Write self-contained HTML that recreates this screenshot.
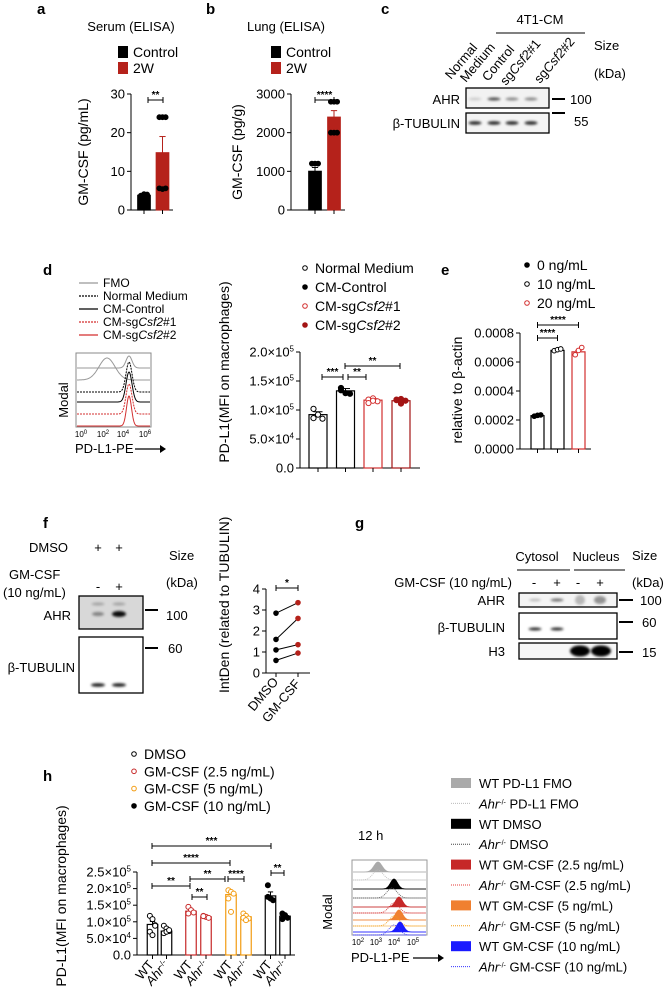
<!DOCTYPE html>
<html><head><meta charset="utf-8">
<style>
html,body{margin:0;padding:0;background:#fff;}
svg{display:block;font-family:"Liberation Sans",Arial,sans-serif;}
</style></head>
<body>
<svg id="fig" width="668" height="1000" viewBox="0 0 668 1000">
<defs>
<filter id="blur1" x="-50%" y="-200%" width="200%" height="500%"><feGaussianBlur stdDeviation="1.2"/></filter>
</defs>
</svg>
<script>
// ---------- data ----------
const aCats=['Control','2W'];
const aMeans=[3.8,14.8];
const aErr=[0.3,4.2];
const aPts=[[3.6,3.8,4.0,3.7,4.1],[24,24,24,5.6,5.4,5.6]];
const aTicks=[0,10,20,30];
const bMeans=[1000,2400];
const bErr=[100,170];
const bPts=[[1200,1200,1200,850,800],[2800,2800,2800,2000,2000,2000]];
const bTicks=[0,1000,2000,3000];
const dCats=['Normal Medium','CM-Control','CM-sgCsf2#1','CM-sgCsf2#2'];
const dMeans=[92000,133000,117000,116000];
const dErr=[5000,4000,2500,2000];
const dPts=[[102000,92000,85000,86000],[138000,129000,128000,134000],[118000,120000,115000,112000,116000],[118000,111000,116000,117000,119000]];
const dTicks=[0,50000,100000,150000,200000];
const dTickLabels=['0.0','5.0×10<tspan dy="-5" font-size="8">4</tspan>','1.0×10<tspan dy="-5" font-size="8">5</tspan>','1.5×10<tspan dy="-5" font-size="8">5</tspan>','2.0×10<tspan dy="-5" font-size="8">5</tspan>'];
const eCats=['0 ng/mL','10 ng/mL','20 ng/mL'];
const eMeans=[0.00023,0.00068,0.00067];
const eErr=[0.000005,0.000005,0.00001];
const ePts=[[0.000226,0.000232,0.000235],[0.000678,0.000685,0.00069],[0.00065,0.00068,0.0007]];
const eTicks=[0,0.0002,0.0004,0.0006,0.0008];
const eTickLabels=['0.0000','0.0002','0.0004','0.0006','0.0008'];
const fDmso=[2.85,1.6,1.1,0.6];
const fGm=[3.35,2.6,1.35,0.95];
const fTicks=[0,1,2,3,4];
const hGroups=['DMSO','GM-CSF (2.5 ng/mL)','GM-CSF (5 ng/mL)','GM-CSF (10 ng/mL)'];
const hMeans=[92000,72000,132000,115000,182000,115000,178000,117000];
const hErr=[9000,5000,6000,3000,10000,5000,12000,4000];
const hPts=[[118000,108000,90000,70000,60000,88000],[88000,80000,72000,66000,70000,75000],[145000,135000,128000,125000],[118000,115000,112000,117000],[195000,190000,185000,170000,130000],[125000,118000,110000,112000,105000],[210000,170000,165000,175000],[125000,118000,112000,108000,120000]];
const hTicks=[0,50000,100000,150000,200000,250000];
const hTickLabels=['0.0','5.0×10<tspan dy="-5" font-size="8">4</tspan>','1.0×10<tspan dy="-5" font-size="8">5</tspan>','1.5×10<tspan dy="-5" font-size="8">5</tspan>','2.0×10<tspan dy="-5" font-size="8">5</tspan>','2.5×10<tspan dy="-5" font-size="8">5</tspan>'];

// ---------- helpers ----------
const NS='http://www.w3.org/2000/svg';
const svg=document.getElementById('fig');
function el(tag,attrs,name,parent){
  const e=document.createElementNS(NS,tag);
  for(const k in attrs) e.setAttribute(k,attrs[k]);
  
  
  (parent||svg).appendChild(e);
  return e;
}
function T(x,y,s,name,o){
  o=o||{};
  const at={x:x,y:y,'font-size':o.fs||13,'text-anchor':o.a||'start',fill:o.c||'#000'};
  if(o.rot!==undefined) at.transform='rotate('+o.rot+' '+x+' '+y+')';
  if(o.fw) at['font-weight']=o.fw;
  const e=el('text',at,name);
  e.innerHTML=s;
  return e;
}
function L(x1,y1,x2,y2,name,o){
  o=o||{};
  const at={x1:x1,y1:y1,x2:x2,y2:y2,stroke:o.c||'#000','stroke-width':o.w||1};
  if(o.dash) at['stroke-dasharray']=o.dash;
  return el('line',at,name);
}
function R(x,y,w,h,name,o){
  o=o||{};
  return el('rect',{x:x,y:y,width:w,height:h,fill:o.f||'none',stroke:o.s||'none','stroke-width':o.w||1},name);
}
function C(x,y,r,name,o){
  o=o||{};
  return el('circle',{cx:x,cy:y,r:r,fill:o.f||'none',stroke:o.s||'#000','stroke-width':o.w||1},name);
}
function axisY(x,yOf,ticks,labels,name){
  L(x,yOf(ticks[ticks.length-1]),x,yOf(ticks[0]),name+'-y-axis');
  ticks.forEach((t,i)=>{
    L(x-4,yOf(t),x,yOf(t),name+'-y-tick');
    T(x-6,yOf(t)+4.5,labels[i],name+'-y-tick-label',{a:'end'});
  });
}
function bracket(x1,x2,y,star,name){
  L(x1,y,x2,y,name+'-sig-bar');
  L(x1,y-3,x1,y+3,name+'-sig-bar-end');
  L(x2,y-3,x2,y+3,name+'-sig-bar-end');
  T((x1+x2)/2,y-2,star,name+'-sig-label',{a:'middle',fs:10,fw:'bold'});
}
function barSet(xs,w,yOf,base,means,errs,pts,fills,strokes,ptFill,ptStroke,name,pr){
  means.forEach((m,i)=>{
    const x=xs[i];
    R(x-w/2,yOf(m),w,base-yOf(m),name+'-bar',{f:fills[i],s:strokes[i],w:1.2});
    L(x,yOf(m),x,yOf(m+errs[i]),name+'-error-bar',{c:strokes[i]});
    L(x-w/4,yOf(m+errs[i]),x+w/4,yOf(m+errs[i]),name+'-error-cap',{c:strokes[i]});
    pts[i].forEach((p,j)=>{
      const off=((j%3)-1)*(w/4);
      C(x+off,yOf(p),pr||2.6,name+'-point',{f:ptFill[i],s:ptStroke[i]});
    });
    L(x,base,x,base+4,name+'-x-tick');
  });
}
function gaussPath(x0,x1,base,peak,mu,sig,h){
  let d='M'+x0+' '+base;
  for(let x=x0;x<=x1;x+=0.5){
    const y=base-h*Math.exp(-Math.pow(x-mu,2)/(2*sig*sig)) - (peak||0);
    d+=' L'+x.toFixed(1)+' '+y.toFixed(1);
  }
  return d;
}
function band(x,y,w,h,op,name){
  el('ellipse',{cx:x,cy:y,rx:w/2,ry:h/2,fill:'#000','fill-opacity':op,filter:'url(#blur1)'},name);
}

// ---------- panel a ----------
T(37,14,'a','panel-label-a',{fs:15,fw:'bold'});
T(131,31,'Serum (ELISA)','panel-a-title',{a:'middle'});
R(118,46,10,12,'legend-swatch-control',{f:'#000'});
T(133,57,'Control','legend-label-control',{fs:14});
R(118,62,10,12,'legend-swatch-2w',{f:'#b5221b'});
T(133,73,'2W','legend-label-2w',{fs:14});
const aY=v=>210-v/30*116;
axisY(131,aY,aTicks,aTicks.map(String),'panel-a');
L(131,210,173,210,'panel-a-x-axis');
barSet([144,162.5],12.5,aY,210,aMeans,aErr,aPts,['#000','#b5221b'],['#000','#b5221b'],['#000','#000'],['#000','#000'],'panel-a',2.4);
bracket(148,163,100,'**','panel-a');
T(88,152,'GM-CSF (pg/mL)','panel-a-y-title',{a:'middle',rot:-90,fs:14});

// ---------- panel b ----------
T(206,14,'b','panel-label-b',{fs:15,fw:'bold'});
T(286,31,'Lung (ELISA)','panel-b-title',{a:'middle'});
R(271,46,10,12,'legend-swatch-control-b',{f:'#000'});
T(286,57,'Control','legend-label-control-b',{fs:14});
R(271,62,10,12,'legend-swatch-2w-b',{f:'#b5221b'});
T(286,73,'2W','legend-label-2w-b',{fs:14});
const bY=v=>210-v/3000*116;
axisY(291,bY,bTicks,bTicks.map(String),'panel-b');
L(291,210,333+12,210,'panel-b-x-axis');
barSet([315,334],12.5,bY,210,bMeans,bErr,bPts,['#000','#b5221b'],['#000','#b5221b'],['#000','#000'],['#000','#000'],'panel-b',2.4);
bracket(315,334,100,'****','panel-b');
T(242,152,'GM-CSF (pg/g)','panel-b-y-title',{a:'middle',rot:-90,fs:14});

// ---------- panel c ----------
T(381,14,'c','panel-label-c',{fs:15,fw:'bold'});
T(540,24,'4T1-CM','c-header-4t1cm',{a:'middle'});
L(496,33,585,33,'c-header-line');
T(451,80,'Normal','c-lane-normal',{rot:-50});
T(466,83,'Medium','c-lane-medium',{rot:-50});
T(488,82,'Control','c-lane-control',{rot:-50});
T(506,86,'sg<tspan font-style="italic">Csf2</tspan>#1','c-lane-sg1',{rot:-50});
T(540,84,'sg<tspan font-style="italic">Csf2</tspan>#2','c-lane-sg2',{rot:-50});
T(594,50,'Size','c-size-label');
T(594,78,'(kDa)','c-kda-label');
R(466,88,83,20,'c-ahr-blot',{f:'#f2f2f2',s:'#000',w:1.3});
R(466,113,83,20,'c-tubulin-blot',{f:'#f4f4f4',s:'#000',w:1.3});
[[475,0.15],[494,0.7],[512,0.45],[531,0.45]].forEach(b=>band(b[0],99,13,3,b[1],'c-ahr-band'));
[475,494,512,531].forEach(x=>band(x,123,13,3.5,0.85,'c-tubulin-band'));
T(460,104,'AHR','c-ahr-label',{a:'end'});
T(460,128,'β-TUBULIN','c-tubulin-label',{a:'end'});
L(552,99,565,99,'c-marker-100',{w:2});
T(570,104,'100','c-marker-100-label');
L(552,113,565,113,'c-marker-55',{w:2});
T(574,126,'55','c-marker-55-label');

// ---------- panel d ----------
T(43,275,'d','panel-label-d',{fs:15,fw:'bold'});
const dLeg=[['FMO','#999',''],['Normal Medium','#000','2,1'],['CM-Control','#000',''],['CM-sg<tspan font-style="italic">Csf2</tspan>#1','#d32f2f','2,1'],['CM-sg<tspan font-style="italic">Csf2</tspan>#2','#d32f2f','']];
dLeg.forEach((g,i)=>{
  const y=283+i*13;
  L(79,y,98,y,'d-hist-legend-line',{c:g[1],dash:g[2]||undefined,w:1.2});
  T(103,y+4,g[0],'d-hist-legend-label',{fs:12});
});
R(76,353,75,74,'d-histogram-frame',{s:'#888'});
const dHist=[[380,107,8,22,'#999',''],[392,129,3,30,'#000','2,1'],[402,129,3,30,'#000',''],[414,129,3,30,'#d32f2f','2,1'],[426,129,2.5,30,'#d32f2f','']];
dHist.forEach(h=>{
  const base=h[0];
  el('path',{d:gaussPath(77,150,base,0,h[1],h[2],Math.min(h[3],base-355)),fill:'none',stroke:h[4],'stroke-width':1,'stroke-dasharray':h[5]||'none'},'d-histogram-trace');
});
el('path',{d:gaussPath(77,150,368,0,129,3,12),fill:'none',stroke:'#999','stroke-width':1},'d-histogram-trace-fmo-peak');
[['10<tspan dy="-3" font-size="6">0</tspan>',81],['10<tspan dy="-3" font-size="6">2</tspan>',103],['10<tspan dy="-3" font-size="6">4</tspan>',123],['10<tspan dy="-3" font-size="6">6</tspan>',145]].forEach(t=>T(t[1],437,t[0],'d-hist-x-tick-label',{fs:8,a:'middle'}));
T(75,453,'PD-L1-PE','d-hist-x-title',{fs:13});
L(135,449,162,449,'d-hist-arrow-line',{w:1.3});
el('path',{d:'M160 445 L166 449 L160 453 Z',fill:'#000'},'d-hist-arrow-head');
T(68,400,'Modal','d-hist-y-title',{a:'middle',rot:-90});
// d legend
const dLegSty=[['#fff','#000'],['#000','#000'],['#fff','#d32f2f'],['#a31515','#a31515']];
dCats.forEach((c,i)=>{
  const y=268+i*19;
  C(305,y,2.3,'d-legend-marker',{f:dLegSty[i][0],s:dLegSty[i][1]});
  T(315,y+5,c.replace('Csf2','<tspan font-style="italic">Csf2</tspan>'),'d-legend-label',{fs:14});
});
const dY=v=>468-v/200000*116;
axisY(300,dY,dTicks,dTickLabels,'panel-d');
L(300,468,420,468,'panel-d-x-axis');
barSet([318,345.5,373,401],18,dY,468,dMeans,dErr,dPts,['#fff','#fff','#fff','#fff'],['#000','#000','#d32f2f','#a31515'],['#fff','#000','#fff','#a31515'],['#000','#000','#d32f2f','#a31515'],'panel-d',2.6);
bracket(322,343,377,'***','panel-d');
bracket(348,366,377,'**','panel-d');
bracket(345,400,366,'**','panel-d');
T(229,372,'PD-L1(MFI on macrophages)','panel-d-y-title',{a:'middle',rot:-90,fs:14});

// ---------- panel e ----------
T(441,275,'e','panel-label-e',{fs:15,fw:'bold'});
const eLegSty=[['#000','#000'],['#fff','#000'],['#fff','#d32f2f']];
eCats.forEach((c,i)=>{
  const y=265+i*19;
  C(527,y,2.3,'e-legend-marker',{f:eLegSty[i][0],s:eLegSty[i][1]});
  T(537,y+5,c,'e-legend-label',{fs:14});
});
const eY=v=>449-v/0.0008*116;
axisY(520,eY,eTicks,eTickLabels,'panel-e');
L(520,449,591,449,'panel-e-x-axis');
barSet([537.5,557.5,578.5],13,eY,449,eMeans,eErr,ePts,['#fff','#fff','#fff'],['#000','#000','#d32f2f'],['#000','#fff','#fff'],['#000','#000','#d32f2f'],'panel-e',2.3);
bracket(537.5,557.5,338,'****','panel-e');
bracket(537.5,578.5,325,'****','panel-e');
T(462,390,'relative to β-actin','panel-e-y-title',{a:'middle',rot:-90,fs:14});

// ---------- panel f ----------
T(43,528,'f','panel-label-f',{fs:15,fw:'bold'});
T(29,552,'DMSO','f-dmso-label');
T(98,552,'+','f-dmso-plus1',{a:'middle'});
T(119,552,'+','f-dmso-plus2',{a:'middle'});
T(169,560,'Size','f-size-label');
T(9,579,'GM-CSF','f-gmcsf-label');
T(3,597,'(10 ng/mL)','f-gmcsf-conc');
T(98,591,'-','f-gmcsf-minus',{a:'middle'});
T(119,591,'+','f-gmcsf-plus',{a:'middle'});
T(166,587,'(kDa)','f-kda-label');
R(79,596,64,33,'f-ahr-blot',{f:'#d8d8d8',s:'#000',w:1.3});
band(98,604,13,3,0.25,'f-ahr-band-faint');
band(119,604,13,3,0.25,'f-ahr-band-faint');
band(98,614,12,4,0.4,'f-ahr-band');
band(119,614,14,6,0.95,'f-ahr-band');
T(71,620,'AHR','f-ahr-label',{a:'end'});
L(145,610,158,610,'f-marker-100',{w:2});
T(166,620,'100','f-marker-100-label');
R(79,637,64,56,'f-tubulin-blot',{f:'#fff',s:'#000',w:1.3});
band(98,685,14,3.5,0.9,'f-tubulin-band');
band(119,685,14,3.5,0.9,'f-tubulin-band');
T(75,672,'β-TUBULIN','f-tubulin-label',{a:'end'});
L(145,648,158,648,'f-marker-60',{w:2});
T(168,653,'60','f-marker-60-label');
const fY=v=>673-v/4*84;
axisY(266,fY,fTicks,fTicks.map(String),'panel-f');
L(266,673,310,673,'panel-f-x-axis');
L(276,673,276,677,'panel-f-x-tick');
L(298,673,298,677,'panel-f-x-tick');
fDmso.forEach((v,i)=>{
  L(276,fY(v),298,fY(fGm[i]),'f-paired-line');
  C(276,fY(v),2.3,'f-point-dmso',{f:'#000',s:'#000'});
  C(298,fY(fGm[i]),2.3,'f-point-gmcsf',{f:'#b5221b',s:'#b5221b'});
});
bracket(276,298,588,'*','panel-f');
T(279,682,'DMSO','f-x-label-dmso',{a:'end',rot:-50});
T(301,684,'GM-CSF','f-x-label-gmcsf',{a:'end',rot:-50});
T(229,693,'IntDen (related to TUBULIN)','panel-f-y-title',{rot:-90,fs:14});

// ---------- panel g ----------
T(355,528,'g','panel-label-g',{fs:15,fw:'bold'});
T(537,561,'Cytosol','g-cytosol-label',{a:'middle'});
T(596,561,'Nucleus','g-nucleus-label',{a:'middle'});
L(517,570,570,570,'g-cytosol-line');
L(574,570,625,570,'g-nucleus-line');
T(632,560,'Size','g-size-label');
T(512,587,'GM-CSF (10 ng/mL)','g-gmcsf-label',{a:'end'});
[['-',534],['+',557],['-',578],['+',600]].forEach(s=>T(s[1],587,s[0],'g-lane-sign',{a:'middle'}));
T(632,587,'(kDa)','g-kda-label');
R(519,593,98,14,'g-ahr-blot',{f:'#f4f4f4',s:'#000',w:1.3});
band(535,600,12,2.5,0.25,'g-ahr-band');
band(557,600,13,3,0.55,'g-ahr-band');
band(580,600,10,10,0.25,'g-ahr-band');
band(600,600,12,8,0.4,'g-ahr-band');
R(519,613,98,26,'g-tubulin-blot',{f:'#fff',s:'#000',w:1.3});
band(535,629,13,3,0.85,'g-tubulin-band');
band(557,629,13,3,0.85,'g-tubulin-band');
R(519,643,98,16,'g-h3-blot',{f:'#f7f7f7',s:'#000',w:1.3});
band(580,651,20,11,1,'g-h3-band');
band(601,651,20,11,1,'g-h3-band');
T(505,605,'AHR','g-ahr-label',{a:'end'});
T(505,632,'β-TUBULIN','g-tubulin-label',{a:'end'});
T(505,656,'H3','g-h3-label',{a:'end'});
L(619,600,633,600,'g-marker-100',{w:2});
T(640,605,'100','g-marker-100-label');
L(619,622,633,622,'g-marker-60',{w:2});
T(642,627,'60','g-marker-60-label');
L(619,652,633,652,'g-marker-15',{w:2});
T(642,657,'15','g-marker-15-label');

// ---------- panel h ----------
T(43,781,'h','panel-label-h',{fs:15,fw:'bold'});
const hCol=['#000','#c62828','#f39c12','#000'];
const hLegFill=['#fff','#fff','#fff','#000'];
hGroups.forEach((g,i)=>{
  const y=754+i*17.3;
  C(134,y,2.3,'h-legend-marker',{f:hLegFill[i],s:hCol[i]});
  T(144,y+5,g,'h-legend-label',{fs:14});
});
const hY=v=>955-v/250000*83;
axisY(137,hY,hTicks,hTickLabels,'panel-h');
L(137,955,295,955,'panel-h-x-axis');
const hX=[152.5,166.5,191,206,231,246,270.5,285];
const hStroke=['#000','#000','#c62828','#c62828','#f39c12','#f39c12','#000','#000'];
const hPtFill=['#fff','#fff','#fff','#fff','#fff','#fff','#000','#000'];
barSet(hX,10.5,hY,955,hMeans,hErr,hPts,hPtFill.map(()=>'#fff'),hStroke,hPtFill,hStroke,'panel-h',2.5);
bracket(152,271,846,'***','panel-h');
bracket(152,230,863,'****','panel-h');
bracket(152,190,886,'**','panel-h');
bracket(190,225,879,'**','panel-h');
bracket(228,244,879,'****','panel-h');
bracket(192,207,897,'**','panel-h');
bracket(271,284,873,'**','panel-h');
hX.forEach((x,i)=>{
  if(i%2===0) T(x+2,965,'WT','h-x-label-wt',{a:'end',rot:-50});
  else T(x+3,965,'<tspan font-style="italic">Ahr</tspan><tspan dy="-4" font-size="8">-/-</tspan>','h-x-label-ahr',{a:'end',rot:-50});
});
T(66,896,'PD-L1(MFI on macrophages)','panel-h-y-title',{a:'middle',rot:-90,fs:14});
// h histograms
T(358,840,'12 h','h-hist-time-label');
R(352,860,75,75,'h-histogram-frame',{s:'#999'});
const hHist=[[872,378,4,'#aaa',true,''],[880,378,5,'#bbb',false,'1,1'],[889,394,3.5,'#000',true,''],[898,392,5,'#555',false,'1,1'],[907,399,3.5,'#c62828',true,''],[913,394,5,'#d32f2f',false,'1,1'],[920,399,3.5,'#f08030',true,''],[926,394,5,'#f39c12',false,'1,1'],[932,400,3.5,'#1a1aff',true,''],[935,394,5,'#3333ff',false,'1,1']];
hHist.forEach(h=>{
  L(353,h[0],426,h[0],'h-histogram-baseline',{c:h[3],w:0.5});
  el('path',{d:gaussPath(353,426,h[0],0,h[1],h[2],10),fill:h[4]?h[3]:'none',stroke:h[3],'stroke-width':0.8,'stroke-dasharray':h[5]||'none'},'h-histogram-trace');
});
[['10<tspan dy="-3" font-size="6">2</tspan>',358],['10<tspan dy="-3" font-size="6">3</tspan>',376],['10<tspan dy="-3" font-size="6">4</tspan>',394],['10<tspan dy="-3" font-size="6">5</tspan>',413]].forEach(t=>T(t[1],945,t[0],'h-hist-x-tick-label',{fs:8,a:'middle'}));
T(351,962,'PD-L1-PE','h-hist-x-title',{fs:13});
L(413,958,440,958,'h-hist-arrow-line',{w:1.3});
el('path',{d:'M438 954 L444 958 L438 962 Z',fill:'#000'},'h-hist-arrow-head');
T(332,912,'Modal','h-hist-y-title',{a:'middle',rot:-90});
const hLeg=[['WT PD-L1 FMO','#aaa',true],['<tspan font-style="italic">Ahr</tspan><tspan dy="-4" font-size="7">-/-</tspan><tspan dy="4"> PD-L1 FMO</tspan>','#bbb',false],['WT DMSO','#000',true],['<tspan font-style="italic">Ahr</tspan><tspan dy="-4" font-size="7">-/-</tspan><tspan dy="4"> DMSO</tspan>','#444',false],['WT GM-CSF (2.5 ng/mL)','#c62828',true],['<tspan font-style="italic">Ahr</tspan><tspan dy="-4" font-size="7">-/-</tspan><tspan dy="4"> GM-CSF (2.5 ng/mL)</tspan>','#e53935',false],['WT GM-CSF (5 ng/mL)','#f08030',true],['<tspan font-style="italic">Ahr</tspan><tspan dy="-4" font-size="7">-/-</tspan><tspan dy="4"> GM-CSF (5 ng/mL)</tspan>','#f39c12',false],['WT GM-CSF (10 ng/mL)','#1a1aff',true],['<tspan font-style="italic">Ahr</tspan><tspan dy="-4" font-size="7">-/-</tspan><tspan dy="4"> GM-CSF (10 ng/mL)</tspan>','#3333ff',false]];
hLeg.forEach((g,i)=>{
  const y=783+i*20.4;
  if(g[2]) R(451,y-5,20,10,'h-hist-legend-swatch',{f:g[1]});
  else L(451,y,471,y,'h-hist-legend-line',{c:g[1],dash:'1,1'});
  T(479,y+5,g[0],'h-hist-legend-label',{fs:13});
});
</script>
</body></html>
